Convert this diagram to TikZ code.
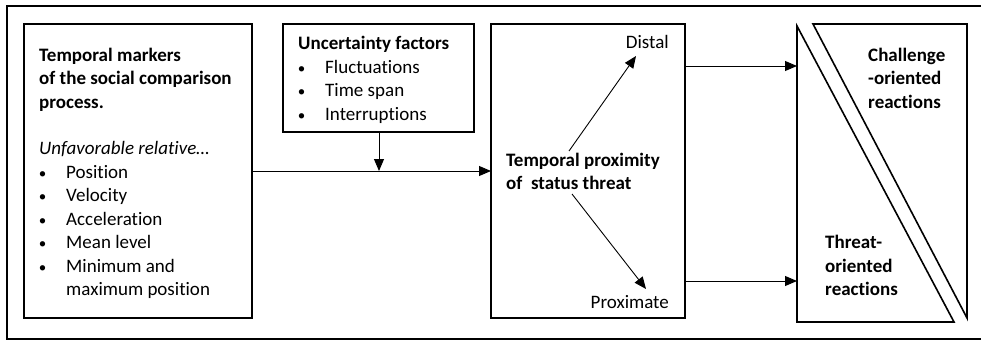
\documentclass[tikz,border=0pt]{standalone}
\usepackage{fontspec}
\setmainfont[RawFeature=-liga]{Carlito}
\usetikzlibrary{arrows.meta}
\begin{document}
\begin{tikzpicture}[x=1pt,y=-1pt,
  box/.style={draw,line width=1.6pt},
  arr/.style={line width=0.9pt,-{Triangle[length=12pt,width=10pt]}},
  txt/.style={anchor=base west,inner sep=0pt,font=\fontsize{19}{23.5}\selectfont},
  btxt/.style={txt,font=\fontsize{19}{23.5}\selectfont\bfseries},
  bul/.style={anchor=base,inner sep=0pt,font=\fontsize{15}{15}\selectfont},
  rtxt/.style={txt,anchor=base east}]
\useasboundingbox (0,0) rectangle (981,340);
% outer frame
\draw[line width=1.6pt] (981,6) -- (7,6) -- (7,339) -- (981,339);
% boxes
\draw[box] (24,24) rectangle (252,318);
\coordinate (lbR) at (252,171);
\draw[box] (283,24) rectangle (474,132);
\coordinate (ubB) at (379,132);
\draw[box] (491,24) rectangle (685,318);
\coordinate (mbL) at (491,171);
\coordinate (mbR1) at (685,66);
\coordinate (mbR2) at (685,281);
\draw[box] (797,26) -- (797,322) -- (954,322) -- cycle;
\draw[box] (813,24) -- (967,24) -- (967,318) -- cycle;
\coordinate (tri1) at (797,66);
\coordinate (tri2) at (797,281);
\coordinate (join) at (379,171);
% left text
\node[btxt] (a1) at (39,61.5) {Temporal markers};
\node[btxt] (a2) at (39,84.5) {of the social comparison};
\node[btxt] (a3) at (39,108) {process.};
\node[txt] (a4) at (39,154.5) {\itshape Unfavorable relative…};
\node[bul] (b1) at (42.5,178) {•}; \node[txt] (c1) at (66,178) {Position};
\node[bul] (b2) at (42.5,201.5) {•}; \node[txt] (c2) at (66,201.5) {Velocity};
\node[bul] (b3) at (42.5,225) {•}; \node[txt] (c3) at (66,225) {Acceleration};
\node[bul] (b4) at (42.5,248.5) {•}; \node[txt] (c4) at (66,248.5) {Mean level};
\node[bul] (b5) at (42.5,272) {•}; \node[txt] (c5) at (66,272) {Minimum and};
\node[txt] (c6) at (66,295.5) {maximum position};
% uncertainty text
\node[btxt] (u0) at (298,49.5) {Uncertainty factors};
\node[bul] (ub1) at (301.5,73) {•}; \node[txt] (u1) at (325,73) {Fluctuations};
\node[bul] (ub2) at (301.5,96.5) {•}; \node[txt] (u2) at (325,96.5) {Time span};
\node[bul] (ub3) at (301.5,120) {•}; \node[txt] (u3) at (325,120) {Interruptions};
% middle
\node[rtxt] (dist) at (669,48) {Distal};
\node[rtxt] (prox) at (669,308) {Proximate};
\node[btxt] (tp1) at (506,166) {Temporal proximity};
\node[btxt] (tp2) at (506,189.5) {of\ \ status threat};
\coordinate (dS) at (569,151);
\coordinate (dE) at (636,56);
\coordinate (pS) at (572,194);
\coordinate (pE) at (646,289);
% right texts
\node[btxt] (ch1) at (868,61) {Challenge};
\node[btxt] (ch2) at (868,84.5) {-oriented};
\node[btxt] (ch3) at (868,108) {reactions};
\node[btxt] (th1) at (825,248.5) {Threat-};
\node[btxt] (th2) at (825,272) {oriented};
\node[btxt] (th3) at (825,295.5) {reactions};
% connectors
\draw[arr] (lbR) -- (mbL);
\draw[arr] (ubB) -- (join);
\draw[arr] (dS) -- (dE);
\draw[arr] (pS) -- (pE);
\draw[arr] (mbR1) -- (tri1);
\draw[arr] (mbR2) -- (tri2);
\end{tikzpicture}
\end{document}
